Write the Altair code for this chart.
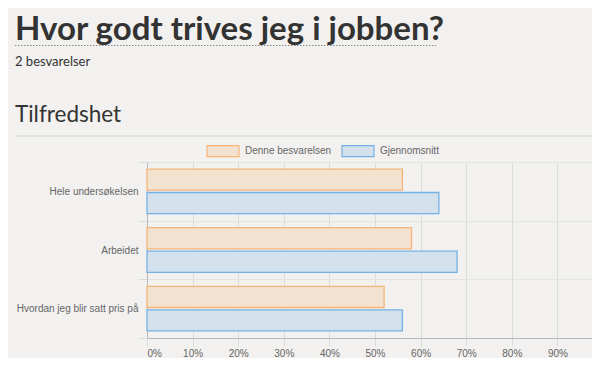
import altair as alt
import pandas as pd

# ---- data ----
categories = ["Hele undersøkelsen", "Arbeidet", "Hvordan jeg blir satt pris på"]
series_names = ["Denne besvarelsen", "Gjennomsnitt"]
denne = [56, 58, 52]
snitt = [64, 68, 56]
x_ticks = [0, 10, 20, 30, 40, 50, 60, 70, 80, 90, 100]

title_text = "Hvor godt trives jeg i jobben?"
subtitle_text = "2 besvarelser"
section_text = "Tilfredshet"

rows = []
for c, a, b in zip(categories, denne, snitt):
    rows.append({"kategori": c, "serie": series_names[0], "verdi": a})
    rows.append({"kategori": c, "serie": series_names[1], "verdi": b})
df = pd.DataFrame(rows)

W = 445          # visible part of the plot (the 100% line lies just past the edge)
H = 176
FULL = 456       # pixel length of 0..100 %
xdom = [0, 100 * W / FULL]

BG = "#f2f1ef"
LBL_FONT = "Liberation Sans"
LBL_SIZE = 10
fill_scale = alt.Scale(domain=series_names, range=["#f4e2d1", "#d3e1ed"])
stroke_scale = alt.Scale(domain=series_names, range=["#f6b477", "#74b2e6"])

legend_kw = dict(
    title=None, orient="none", legendX=59, legendY=-28, direction="horizontal",
    symbolType="M-1,-0.344H1V0.344H-1Z", symbolSize=1024, symbolStrokeWidth=1.2,
    labelFont=LBL_FONT, labelFontSize=LBL_SIZE, labelColor="#666",
    columnPadding=7, labelOffset=5, padding=0,
)

xscale = alt.Scale(domain=xdom, nice=False, zero=True)
x_axis = alt.Axis(
    values=x_ticks, labelExpr="datum.value + '%'", title=None, grid=True,
    gridColor="#dcdcda", domainColor="#b8b8b8", tickColor="#dcdcda", tickSize=8,
    labelColor="#666", labelFont=LBL_FONT, labelFontSize=LBL_SIZE, labelPadding=2,
)

bars = alt.Chart(df).mark_bar(strokeWidth=1.3).encode(
    x=alt.X("verdi:Q", scale=xscale, axis=x_axis),
    y=alt.Y(
        "kategori:N", sort=categories, scale=alt.Scale(paddingInner=0, paddingOuter=0),
        axis=alt.Axis(
            title=None, tickBand="extent", grid=True, gridColor="#e4e4e2",
            domainColor="#b8b8b8", tickColor="#dcdcda", tickSize=9, labelPadding=0,
            labelColor="#666", labelFont=LBL_FONT, labelFontSize=LBL_SIZE,
        ),
    ),
    yOffset=alt.YOffset("serie:N", sort=series_names,
                        scale=alt.Scale(paddingInner=0.1, paddingOuter=0.3)),
    fill=alt.Fill("serie:N", sort=series_names, scale=fill_scale, legend=alt.Legend(**legend_kw)),
    stroke=alt.Stroke("serie:N", sort=series_names, scale=stroke_scale, legend=alt.Legend(**legend_kw)),
)

one = pd.DataFrame({"k": [0]})
title = alt.Chart(one).mark_text(
    font="Lato", fontSize=33, fontWeight="bold", color="#333", align="left", baseline="alphabetic"
).encode(x=alt.value(-132), y=alt.value(-122), text=alt.value(title_text))

underline = alt.Chart(one).mark_rule(color="#888", strokeDash=[1.5, 1.5], strokeWidth=1).encode(
    x=alt.value(-132), x2=alt.value(289), y=alt.value(-116.5)
)

subtitle = alt.Chart(one).mark_text(
    font="Lato", fontSize=13, color="#333", align="left", baseline="alphabetic"
).encode(x=alt.value(-132), y=alt.value(-96), text=alt.value(subtitle_text))

section = alt.Chart(one).mark_text(
    font="Lato", fontSize=22.5, color="#333", align="left", baseline="alphabetic"
).encode(x=alt.value(-132), y=alt.value(-40), text=alt.value(section_text))

separator = alt.Chart(one).mark_rule(color="#e2e2e0", strokeWidth=2).encode(
    x=alt.value(-132), x2=alt.value(W), y=alt.value(-26)
)

chart = alt.layer(bars, title, underline, subtitle, section, separator).properties(
    width=W, height=H,
    autosize=alt.AutoSizeParams(type="none"),
    padding={"left": 139, "top": 154, "right": 0, "bottom": 20},
).configure(background=BG).configure_view(stroke=None)

chart.save("out.html", embed_options={"renderer": "svg", "actions": False})
